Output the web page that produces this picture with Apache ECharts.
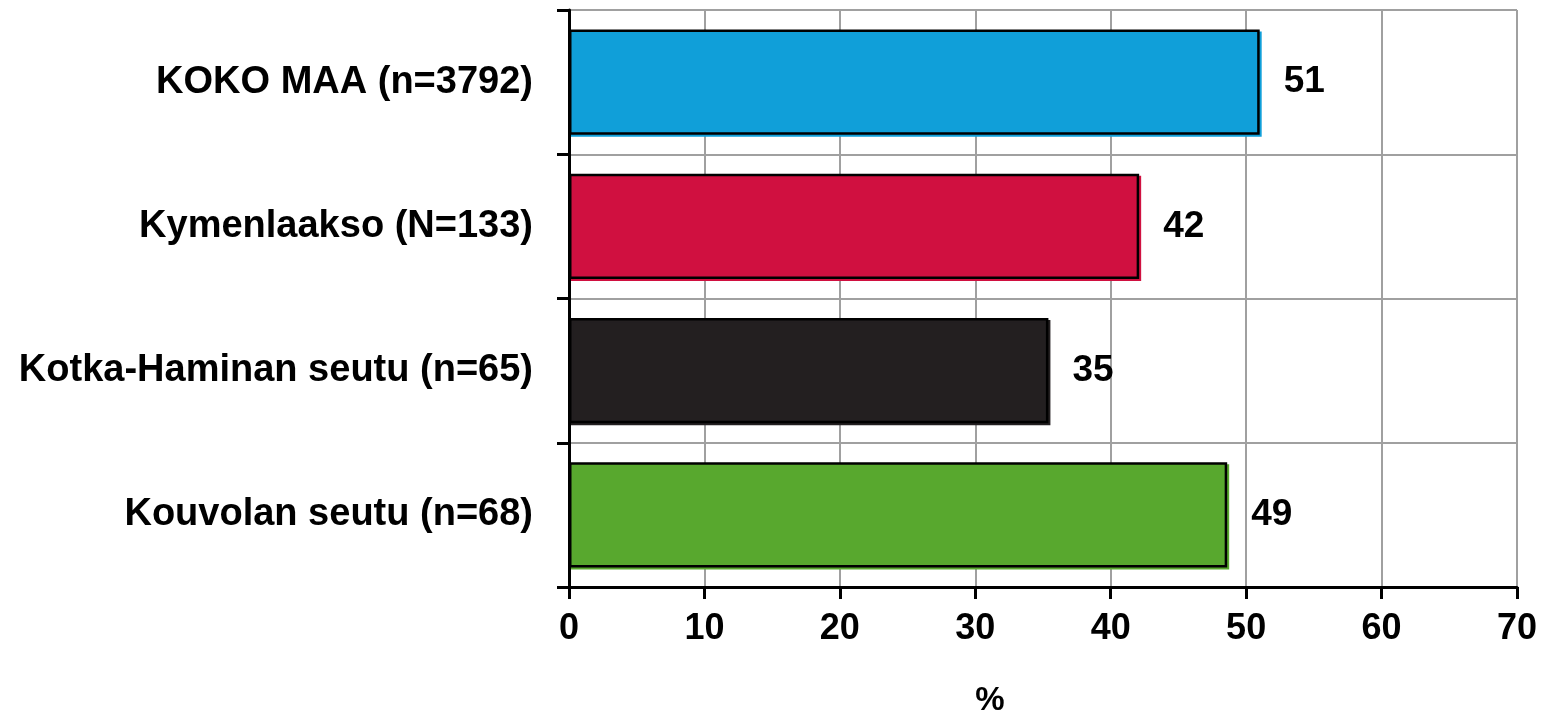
<!DOCTYPE html>
<html>
<head>
<meta charset="utf-8">
<script src="https://cdn.jsdelivr.net/npm/echarts@6/dist/echarts.min.js"></script>
<style>html,body{margin:0;padding:0;background:#fff;}#c{width:1555px;height:712px;}</style>
</head>
<body>
<div id="c"></div>
<script>
var categories = ['KOKO MAA (n=3792)', 'Kymenlaakso (N=133)', 'Kotka-Haminan seutu (n=65)', 'Kouvolan seutu (n=68)'];
var values = [51.0, 42.1, 35.4, 48.6];
var labels = ['51', '42', '35', '49'];
var barColors = ['#109FD9', '#D01040', '#231F20', '#58A82E'];
var xTicks = [0, 10, 20, 30, 40, 50, 60, 70];

var font = '"Liberation Sans", Arial, sans-serif';
var chart = echarts.init(document.getElementById('c'));
chart.setOption({
  animation: false,
  backgroundColor: '#fff',
  title: {
    text: '%', left: 985, top: 679, textAlign: 'center',
    textStyle: {fontFamily: font, fontWeight: 'bold', fontSize: 33, color: '#000'}
  },
  grid: {left: 569, right: 38, top: 10, bottom: 125, containLabel: false},
  xAxis: {
    type: 'value', min: xTicks[0], max: xTicks[xTicks.length - 1], interval: 10,
    axisLine: {show: true, lineStyle: {color: '#000', width: 3}},
    axisTick: {show: true, length: 12, lineStyle: {color: '#000', width: 3}},
    axisLabel: {margin: 24, fontFamily: font, fontWeight: 'bold', fontSize: 36, color: '#000'},
    splitLine: {show: true, lineStyle: {color: '#a0a0a0', width: 2}}
  },
  yAxis: {
    type: 'category', data: categories, inverse: true,
    axisLine: {show: true, lineStyle: {color: '#000', width: 3}},
    axisTick: {show: true, length: 12, lineStyle: {color: '#000', width: 3}},
    axisLabel: {margin: 36, fontFamily: font, fontWeight: 'bold', fontSize: 38, color: '#000'},
    splitLine: {show: true, lineStyle: {color: '#a0a0a0', width: 2}}
  },
  series: [{
    type: 'bar',
    data: values.map(function (v, i) {
      return {
        value: v,
        itemStyle: {color: barColors[i], borderColor: '#000', borderWidth: 2.5,
          shadowColor: barColors[i], shadowOffsetX: 2, shadowOffsetY: 2, shadowBlur: 0}
      };
    }),
    barCategoryGap: '27%',
    label: {
      show: true, position: 'right', distance: 24,
      formatter: function (p) { return labels[p.dataIndex]; },
      fontFamily: font, fontWeight: 'bold', fontSize: 37, color: '#000'
    }
  }]
});
</script>
</body>
</html>
